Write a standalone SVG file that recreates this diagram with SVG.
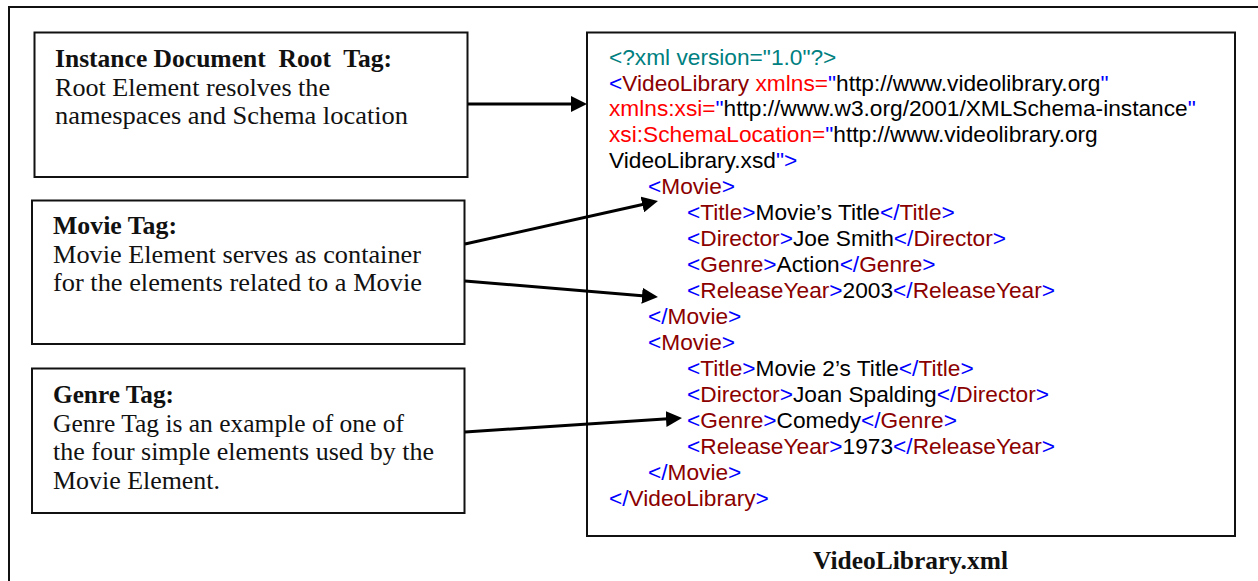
<svg xmlns="http://www.w3.org/2000/svg" width="1258" height="581" viewBox="0 0 1258 581">
<defs>
<style>
.box{fill:#fff;stroke:#111;stroke-width:2}
.t{font-family:"Liberation Serif","Times New Roman",serif;font-size:25px;fill:#111}
.h{font-weight:bold}
.x{font-family:"Liberation Sans",Arial,sans-serif;font-size:22.7px;fill:#000}
.pi{fill:#008080}
.b{fill:#0000ff}
.e{fill:#8b0000}
.a{fill:#ff0000}
.k{fill:#000}
.c{stroke:#000;stroke-width:3;fill:none;marker-end:url(#ah)}
</style>
<marker id="ah" markerUnits="userSpaceOnUse" markerWidth="16" markerHeight="16" refX="6" refY="8" orient="auto">
<path d="M0,0 L16,8 L0,16 Z" fill="#000"/>
</marker>
</defs>
<rect width="1258" height="581" fill="#fff"/>
<rect x="9" y="7" width="1270" height="600" fill="none" stroke="#111" stroke-width="2"/>

<g id="root-tag">
<rect class="box" x="34.5" y="32.5" width="433" height="144.5"/>
<text class="t h" x="55" y="67" xml:space="preserve" textLength="337" lengthAdjust="spacingAndGlyphs">Instance Document  Root  Tag:</text>
<text class="t" x="55" y="96" textLength="275" lengthAdjust="spacingAndGlyphs">Root Element resolves the</text>
<text class="t" x="55" y="124" textLength="353" lengthAdjust="spacingAndGlyphs">namespaces and Schema location</text>
</g>

<g id="movie-tag">
<rect class="box" x="32" y="200.5" width="432.5" height="143.5"/>
<text class="t h" x="53" y="234" textLength="124" lengthAdjust="spacingAndGlyphs">Movie Tag:</text>
<text class="t" x="53" y="263" textLength="368" lengthAdjust="spacingAndGlyphs">Movie Element serves as container</text>
<text class="t" x="53" y="291" textLength="369" lengthAdjust="spacingAndGlyphs">for the elements related to a Movie</text>
</g>

<g id="genre-tag">
<rect class="box" x="32" y="368.5" width="432.5" height="144.5"/>
<text class="t h" x="53" y="403" textLength="121" lengthAdjust="spacingAndGlyphs">Genre Tag:</text>
<text class="t" x="53" y="431.5" textLength="351" lengthAdjust="spacingAndGlyphs">Genre Tag is an example of one of</text>
<text class="t" x="53" y="460" textLength="381" lengthAdjust="spacingAndGlyphs">the four simple elements used by the</text>
<text class="t" x="53" y="489" textLength="167" lengthAdjust="spacingAndGlyphs">Movie Element.</text>
</g>

<g id="xml-doc">
<rect class="box" x="587" y="32.5" width="648" height="503.5" stroke-width="2.5"/>
<text class="x" x="609" y="65"><tspan class="pi">&lt;?xml version="1.0"?&gt;</tspan></text>
<text class="x" x="609" y="90.5"><tspan class="b">&lt;</tspan><tspan class="e">VideoLibrary</tspan><tspan class="a"> xmlns=</tspan><tspan class="b">"</tspan><tspan class="k">http://www.videolibrary.org</tspan><tspan class="b">"</tspan></text>
<text class="x" x="609" y="116"><tspan class="a">xmlns:xsi=</tspan><tspan class="b">"</tspan><tspan class="k">http://www.w3.org/2001/XMLSchema-instance</tspan><tspan class="b">"</tspan></text>
<text class="x" x="609" y="142"><tspan class="a">xsi:SchemaLocation=</tspan><tspan class="b">"</tspan><tspan class="k">http://www.videolibrary.org</tspan></text>
<text class="x" x="609" y="168"><tspan class="k">VideoLibrary.xsd</tspan><tspan class="b">"&gt;</tspan></text>
<text class="x" x="648" y="194"><tspan class="b">&lt;</tspan><tspan class="e">Movie</tspan><tspan class="b">&gt;</tspan></text>
<text class="x" x="687" y="220"><tspan class="b">&lt;</tspan><tspan class="e">Title</tspan><tspan class="b">&gt;</tspan><tspan class="k">Movie’s Title</tspan><tspan class="b">&lt;/</tspan><tspan class="e">Title</tspan><tspan class="b">&gt;</tspan></text>
<text class="x" x="687" y="246"><tspan class="b">&lt;</tspan><tspan class="e">Director</tspan><tspan class="b">&gt;</tspan><tspan class="k">Joe Smith</tspan><tspan class="b">&lt;/</tspan><tspan class="e">Director</tspan><tspan class="b">&gt;</tspan></text>
<text class="x" x="687" y="272"><tspan class="b">&lt;</tspan><tspan class="e">Genre</tspan><tspan class="b">&gt;</tspan><tspan class="k">Action</tspan><tspan class="b">&lt;/</tspan><tspan class="e">Genre</tspan><tspan class="b">&gt;</tspan></text>
<text class="x" x="687" y="298"><tspan class="b">&lt;</tspan><tspan class="e">ReleaseYear</tspan><tspan class="b">&gt;</tspan><tspan class="k">2003</tspan><tspan class="b">&lt;/</tspan><tspan class="e">ReleaseYear</tspan><tspan class="b">&gt;</tspan></text>
<text class="x" x="648" y="324"><tspan class="b">&lt;/</tspan><tspan class="e">Movie</tspan><tspan class="b">&gt;</tspan></text>
<text class="x" x="648" y="350"><tspan class="b">&lt;</tspan><tspan class="e">Movie</tspan><tspan class="b">&gt;</tspan></text>
<text class="x" x="687" y="376"><tspan class="b">&lt;</tspan><tspan class="e">Title</tspan><tspan class="b">&gt;</tspan><tspan class="k">Movie 2’s Title</tspan><tspan class="b">&lt;/</tspan><tspan class="e">Title</tspan><tspan class="b">&gt;</tspan></text>
<text class="x" x="687" y="402"><tspan class="b">&lt;</tspan><tspan class="e">Director</tspan><tspan class="b">&gt;</tspan><tspan class="k">Joan Spalding</tspan><tspan class="b">&lt;/</tspan><tspan class="e">Director</tspan><tspan class="b">&gt;</tspan></text>
<text class="x" x="687" y="428"><tspan class="b">&lt;</tspan><tspan class="e">Genre</tspan><tspan class="b">&gt;</tspan><tspan class="k">Comedy</tspan><tspan class="b">&lt;/</tspan><tspan class="e">Genre</tspan><tspan class="b">&gt;</tspan></text>
<text class="x" x="687" y="454"><tspan class="b">&lt;</tspan><tspan class="e">ReleaseYear</tspan><tspan class="b">&gt;</tspan><tspan class="k">1973</tspan><tspan class="b">&lt;/</tspan><tspan class="e">ReleaseYear</tspan><tspan class="b">&gt;</tspan></text>
<text class="x" x="648" y="480"><tspan class="b">&lt;/</tspan><tspan class="e">Movie</tspan><tspan class="b">&gt;</tspan></text>
<text class="x" x="609" y="506"><tspan class="b">&lt;/</tspan><tspan class="e">VideoLibrary</tspan><tspan class="b">&gt;</tspan></text>
</g>

<g id="caption">
<text class="t h" x="813" y="569" textLength="195" lengthAdjust="spacingAndGlyphs">VideoLibrary.xml</text>
</g>

<g id="connectors">
<line class="c" x1="468" y1="104" x2="577" y2="104"/>
<line class="c" x1="465" y1="244" x2="648.2" y2="203.2"/>
<line class="c" x1="465" y1="281" x2="648" y2="296.2"/>
<line class="c" x1="465" y1="432" x2="672" y2="418.6"/>
</g>
</svg>
